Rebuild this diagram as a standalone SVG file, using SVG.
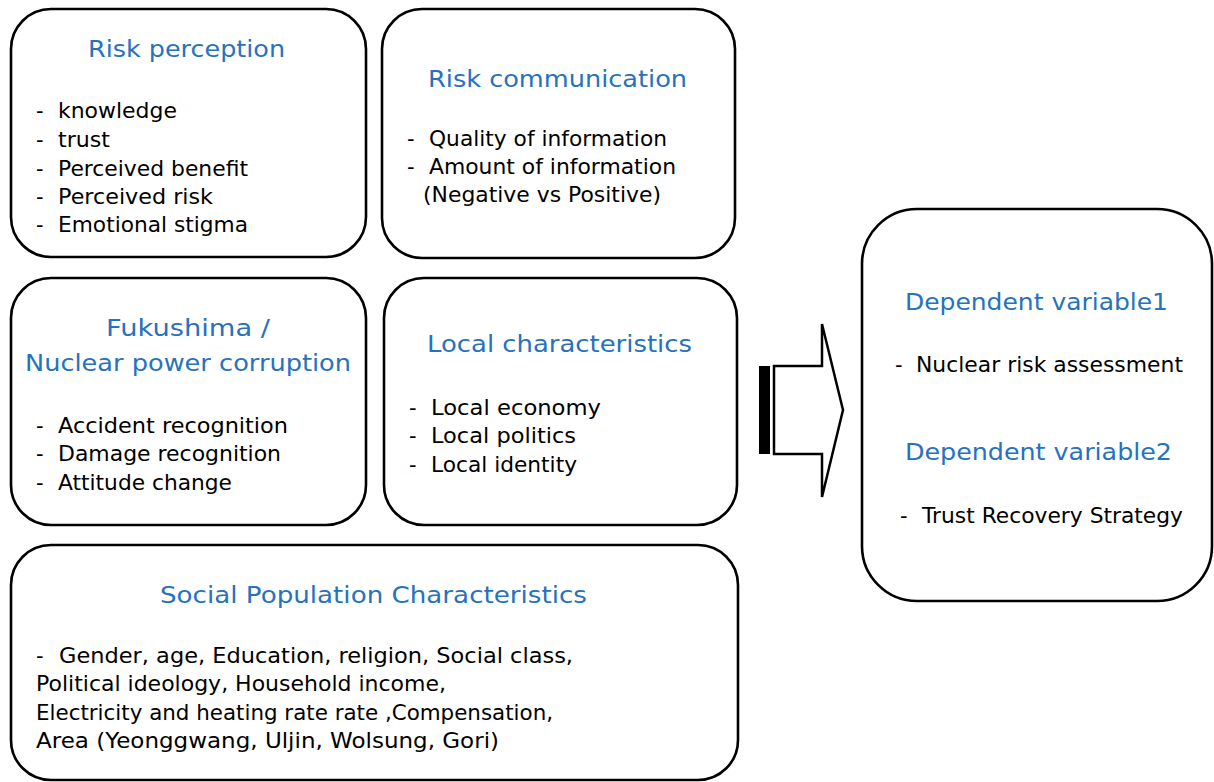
<svg xmlns="http://www.w3.org/2000/svg" width="1214" height="782" viewBox="0 0 1214 782">
<style>
.box{fill:#fff;stroke:#000;stroke-width:2.6}
.t{font-family:"DejaVu Sans","Liberation Sans",sans-serif;font-size:23px;fill:#2672bd}
.b{font-family:"DejaVu Sans","Liberation Sans",sans-serif;font-size:21px;fill:#000}
</style>
<rect width="1214" height="782" fill="#fff"/>
<g id="risk-perception">
<rect class="box" x="11" y="9" width="355" height="248" rx="40"/>
<text class="t" x="88" y="57" textLength="197" lengthAdjust="spacingAndGlyphs">Risk perception</text>
<text class="b" x="36" y="118">-</text><text class="b" x="58" y="118" textLength="119" lengthAdjust="spacingAndGlyphs">knowledge</text>
<text class="b" x="36" y="147">-</text><text class="b" x="58" y="147" textLength="52" lengthAdjust="spacingAndGlyphs">trust</text>
<text class="b" x="36" y="176">-</text><text class="b" x="58" y="176" textLength="190" lengthAdjust="spacingAndGlyphs">Perceived benefit</text>
<text class="b" x="36" y="204">-</text><text class="b" x="58" y="204" textLength="155" lengthAdjust="spacingAndGlyphs">Perceived risk</text>
<text class="b" x="36" y="232">-</text><text class="b" x="58" y="232" textLength="190" lengthAdjust="spacingAndGlyphs">Emotional stigma</text>
</g>
<g id="risk-communication">
<rect class="box" x="382" y="9" width="353" height="249" rx="40"/>
<text class="t" x="428" y="87" textLength="259" lengthAdjust="spacingAndGlyphs">Risk communication</text>
<text class="b" x="407" y="146">-</text><text class="b" x="429" y="146" textLength="238" lengthAdjust="spacingAndGlyphs">Quality of information</text>
<text class="b" x="407" y="174">-</text><text class="b" x="429" y="174" textLength="247" lengthAdjust="spacingAndGlyphs">Amount of information</text>
<text class="b" x="423" y="202" textLength="238" lengthAdjust="spacingAndGlyphs">(Negative vs Positive)</text>
</g>
<g id="fukushima">
<rect class="box" x="11" y="278" width="355" height="247" rx="40"/>
<text class="t" x="106" y="336" textLength="164" lengthAdjust="spacingAndGlyphs">Fukushima /</text>
<text class="t" x="25" y="371" textLength="326" lengthAdjust="spacingAndGlyphs">Nuclear power corruption</text>
<text class="b" x="36" y="433">-</text><text class="b" x="58" y="433" textLength="230" lengthAdjust="spacingAndGlyphs">Accident recognition</text>
<text class="b" x="36" y="461">-</text><text class="b" x="58" y="461" textLength="223" lengthAdjust="spacingAndGlyphs">Damage recognition</text>
<text class="b" x="36" y="490">-</text><text class="b" x="58" y="490" textLength="174" lengthAdjust="spacingAndGlyphs">Attitude change</text>
</g>
<g id="local-characteristics">
<rect class="box" x="384" y="278" width="353" height="247" rx="40"/>
<text class="t" x="427" y="352" textLength="265" lengthAdjust="spacingAndGlyphs">Local characteristics</text>
<text class="b" x="409" y="415">-</text><text class="b" x="431" y="415" textLength="170" lengthAdjust="spacingAndGlyphs">Local economy</text>
<text class="b" x="409" y="443">-</text><text class="b" x="431" y="443" textLength="145" lengthAdjust="spacingAndGlyphs">Local politics</text>
<text class="b" x="409" y="472">-</text><text class="b" x="431" y="472" textLength="146" lengthAdjust="spacingAndGlyphs">Local identity</text>
</g>
<g id="social-population">
<rect class="box" x="11" y="545" width="727" height="235" rx="40"/>
<text class="t" x="160" y="603" textLength="427" lengthAdjust="spacingAndGlyphs">Social  Population  Characteristics</text>
<text class="b" x="36" y="663">-</text><text class="b" x="59" y="663" textLength="514" lengthAdjust="spacingAndGlyphs">Gender, age, Education, religion, Social class,</text>
<text class="b" x="36" y="691" textLength="410" lengthAdjust="spacingAndGlyphs">Political ideology, Household income,</text>
<text class="b" x="36" y="720" textLength="517" lengthAdjust="spacingAndGlyphs">Electricity and heating rate rate ,Compensation,</text>
<text class="b" x="36" y="748" textLength="463" lengthAdjust="spacingAndGlyphs">Area (Yeonggwang, Uljin, Wolsung, Gori)</text>
</g>
<g id="dependent">
<rect class="box" x="862" y="209" width="350" height="392" rx="55"/>
<text class="t" x="905" y="310" textLength="263" lengthAdjust="spacingAndGlyphs">Dependent  variable1</text>
<text class="b" x="895" y="372">-</text><text class="b" x="916" y="372" textLength="267" lengthAdjust="spacingAndGlyphs">Nuclear risk assessment</text>
<text class="t" x="905" y="460" textLength="267" lengthAdjust="spacingAndGlyphs">Dependent  variable2</text>
<text class="b" x="900" y="523">-</text><text class="b" x="922" y="523" textLength="261" lengthAdjust="spacingAndGlyphs">Trust Recovery Strategy</text>
</g>
<g id="connectors">
<rect x="759" y="366" width="11" height="88" fill="#000"/>
<polygon points="774,366 822,366 822,324 843,410 822,497 822,454 774,454" fill="#fff" stroke="#000" stroke-width="2.5" stroke-linejoin="miter"/>
</g>
</svg>
